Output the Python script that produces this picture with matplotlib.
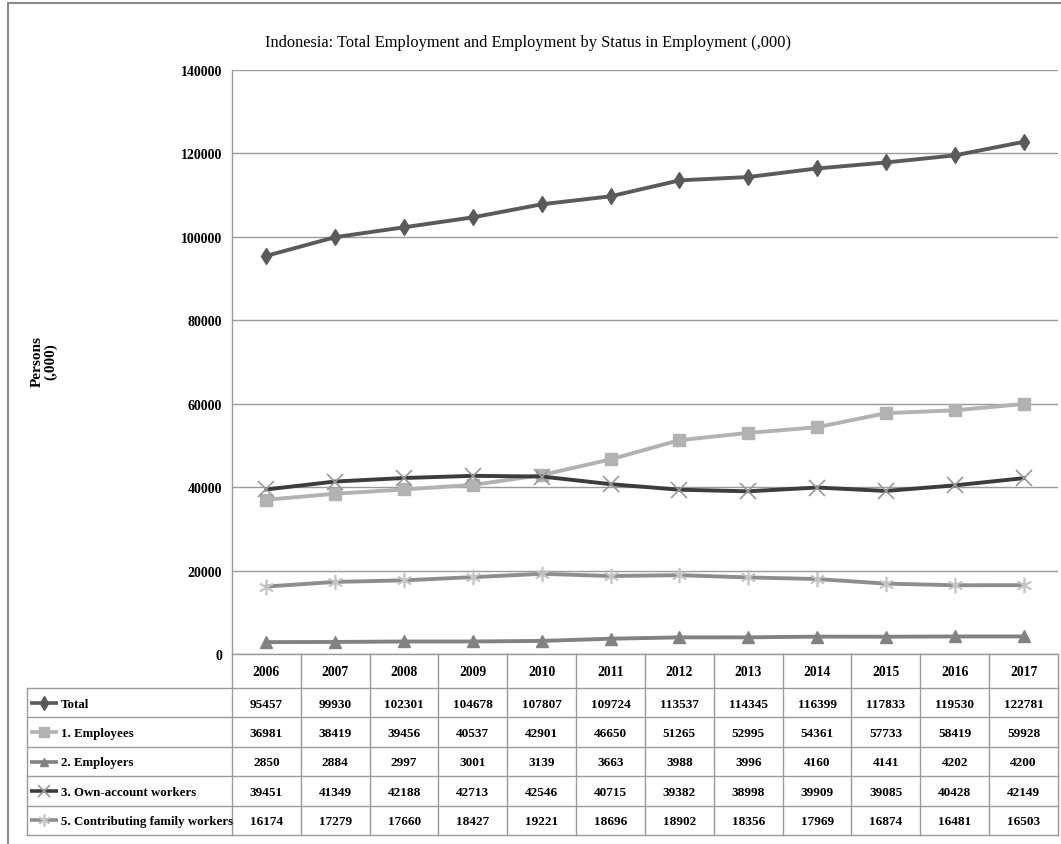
import matplotlib
matplotlib.use("Agg")
import matplotlib.pyplot as plt
from matplotlib.lines import Line2D

years = ["2006", "2007", "2008", "2009", "2010", "2011", "2012", "2013", "2014", "2015", "2016", "2017"]
series_names = ["Total", "1. Employees", "2. Employers", "3. Own-account workers", "5. Contributing family workers"]
total = [95457, 99930, 102301, 104678, 107807, 109724, 113537, 114345, 116399, 117833, 119530, 122781]
employees = [36981, 38419, 39456, 40537, 42901, 46650, 51265, 52995, 54361, 57733, 58419, 59928]
employers = [2850, 2884, 2997, 3001, 3139, 3663, 3988, 3996, 4160, 4141, 4202, 4200]
own_account = [39451, 41349, 42188, 42713, 42546, 40715, 39382, 38998, 39909, 39085, 40428, 42149]
contributing = [16174, 17279, 17660, 18427, 19221, 18696, 18902, 18356, 17969, 16874, 16481, 16503]
yticks = [0, 20000, 40000, 60000, 80000, 100000, 120000, 140000]
title = "Indonesia: Total Employment and Employment by Status in Employment (,000)"
ylabel = "Persons\n(,000)"

values = [total, employees, employers, own_account, contributing]
styles = [
    dict(color="#5a5a5a", marker="d", ms=8.5, mfc="#5a5a5a", mec="#5a5a5a", mew=1),
    dict(color="#b2b2b2", marker="s", ms=9, mfc="#b2b2b2", mec="#b2b2b2", mew=1),
    dict(color="#828282", marker="^", ms=8, mfc="#828282", mec="#828282", mew=1),
    dict(color="#3c3c3c", marker="x", ms=11, mfc="none", mec="#9a9a9a", mew=1.2),
    dict(color="#8e8e8e", marker=(6, 2, 0), ms=11, mfc="none", mec="#c4c4c4", mew=1.2),
]

W, H = 1061, 845
fig = plt.figure(figsize=(W / 100, H / 100), dpi=100)
fig.patch.set_facecolor("white")

def fx(px):
    return px / W

def fy(py):
    return 1 - py / H

serif = "Liberation Serif"
grid_c = "#9a9a9a"

# plot area
L, R, T, B = 232, 1058, 71, 655
ax = fig.add_axes([fx(L), fy(B), fx(R) - fx(L), fy(T) - fy(B)])
n = len(years)
x = list(range(n))
for vals, st in zip(values, styles):
    ax.plot(x, vals, lw=2.8, solid_joinstyle="round", zorder=3, **st)
ax.set_xlim(-0.5, n - 0.5)
ax.set_ylim(0, 140000)
ax.set_yticks(yticks)
ax.set_yticklabels([str(v) for v in yticks], fontfamily=serif, fontweight="bold", fontsize=10)
ax.set_xticks([])
ax.tick_params(axis="y", length=0, pad=7)
ax.yaxis.grid(True, color=grid_c, lw=1)
ax.set_axisbelow(True)
for s in ["top", "right", "bottom"]:
    ax.spines[s].set_visible(False)
ax.spines["left"].set_color(grid_c)
ax.spines["left"].set_linewidth(1)

# title and y label
fig.text(fx(528), fy(43), title, ha="center", va="center", fontfamily=serif, fontsize=11.8)
fig.text(fx(44), fy(362), ylabel, ha="center", va="center", rotation=90,
         fontfamily=serif, fontweight="bold", fontsize=11, linespacing=0.95)

# outer frame
frame_c = "#8a8a8a"
fig.add_artist(Line2D([fx(8), fx(1061)], [fy(4), fy(4)], color=frame_c, lw=1.5))
fig.add_artist(Line2D([fx(8), fx(8)], [fy(4), fy(845)], color=frame_c, lw=1.5))

# data table
TL, TB = 27, 836
col_w = (R - L) / n
tab = fig.add_axes([fx(TL), fy(TB), fx(R) - fx(TL), fy(B) - fy(TB)])
tab.set_xlim((TL - L) / col_w - 0.5, n - 0.5)
tab.set_ylim(TB - B, 0)
tab.axis("off")
x0 = (TL - L) / col_w - 0.5
xl = -0.5
head_h = 34
row_h = (TB - B - head_h) / len(series_names)

# horizontal lines
tab.plot([xl, n - 0.5], [0, 0], color=grid_c, lw=1, clip_on=False)
for i in range(len(series_names) + 1):
    yy = head_h + i * row_h
    tab.plot([x0, n - 0.5], [yy, yy], color=grid_c, lw=1, clip_on=False)
# vertical lines
tab.plot([x0, x0], [head_h, TB - B], color=grid_c, lw=1, clip_on=False)
for j in range(n + 1):
    xx = -0.5 + j
    tab.plot([xx, xx], [0, TB - B], color=grid_c, lw=1, clip_on=False)

for j, yr in enumerate(years):
    tab.text(j, head_h / 2 + 1, yr, ha="center", va="center", fontfamily=serif,
             fontweight="bold", fontsize=9.8)

gx0 = (30 - L) / col_w - 0.5
gx1 = (58 - L) / col_w - 0.5
tx = (61 - L) / col_w - 0.5
for i, (name, vals, st) in enumerate(zip(series_names, values, styles)):
    yc = head_h + (i + 0.5) * row_h
    line_c = st["color"]
    mk = {k: v for k, v in st.items() if k != "color"}
    mk["ms"] = st["ms"] * 0.8
    tab.plot([gx0, gx1], [yc, yc], lw=2.6, color=line_c, solid_capstyle="butt")
    tab.plot([(gx0 + gx1) / 2], [yc], lw=0, **mk)
    tab.text(tx, yc + 1, name, ha="left", va="center", fontfamily=serif,
             fontweight="bold", fontsize=9.3)
    for j, v in enumerate(vals):
        tab.text(j, yc + 1, str(v), ha="center", va="center", fontfamily=serif,
                 fontweight="bold", fontsize=9.5)

fig.savefig("out.png", dpi=100, facecolor="white")
